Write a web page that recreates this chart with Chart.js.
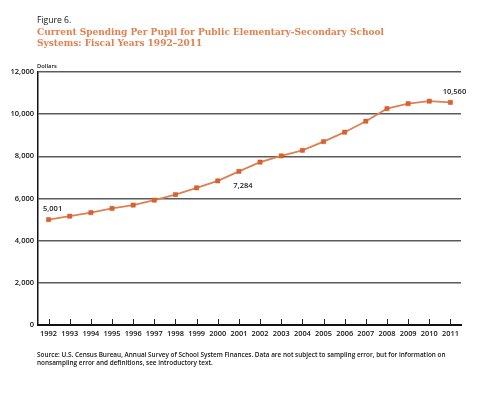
<!DOCTYPE html>
<html>
<head>
<meta charset="utf-8">
<script src="https://cdn.jsdelivr.net/npm/chart.js@4"></script>
<style>
  body { margin: 0; background: #fff; }
  #wrap { position: relative; width: 500px; height: 395px; }
  canvas { position: absolute; left: 0; top: 0; }
  .txt { position: absolute; font-family: "Open Sans", sans-serif; color: #111; white-space: nowrap; }
  #fig { left: 37px; top: 14px; font-size: 8.6px; }
  #title { left: 37px; top: 27px; font-family: "DejaVu Serif", serif; font-weight: bold; font-size: 9px; line-height: 11px; color: #e0814f; }
  #unit { left: 37px; top: 62px; font-size: 5.8px; font-weight: 600; }
  #source { left: 37px; top: 351px; font-size: 6.4px; line-height: 8px; font-weight: 600; }
</style>
</head>
<body>
<div id="wrap">
  <canvas id="c" width="500" height="395"></canvas>
  <div class="txt" id="fig">Figure 6.</div>
  <div class="txt" id="title">Current Spending Per Pupil for Public Elementary-Secondary School<br>Systems: Fiscal Years 1992–2011</div>
  <div class="txt" id="unit">Dollars</div>
  <div class="txt" id="source">Source: U.S. Census Bureau, Annual Survey of School System Finances. Data are not subject to sampling error, but for information on<br>nonsampling error and definitions, see introductory text.</div>
</div>
<script>
// values in dollars per pupil
var years = ["1992", "1993", "1994", "1995", "1996", "1997", "1998", "1999", "2000", "2001",
             "2002", "2003", "2004", "2005", "2006", "2007", "2008", "2009", "2010", "2011"];
var spending = [5001, 5160, 5327, 5528, 5689, 5923, 6189, 6508, 6835, 7284,
                7727, 8019, 8287, 8701, 9145, 9666, 10259, 10499, 10615, 10560];
var yTicks = [0, 2000, 4000, 6000, 8000, 10000, 12000];
// which points get a value label, and whether it sits above or below
var labelled = {0: "above", 9: "below", 19: "above"};

var fmt = function (v) { return v.toLocaleString("en-US"); };

// small year ticks pointing up from the x axis, plus the point value labels
var extras = {
    id: "extras",
    beforeDatasetsDraw: function (chart) {
        var ctx = chart.ctx, x = chart.scales.x, area = chart.chartArea;
        ctx.save();
        ctx.strokeStyle = "#222";
        ctx.lineWidth = 1;
        years.forEach(function (y, i) {
            var px = Math.round(x.getPixelForValue(i)) + 0.5;
            ctx.beginPath();
            ctx.moveTo(px, area.bottom);
            ctx.lineTo(px, area.bottom - 6);
            ctx.stroke();
        });
        ctx.restore();
    },
    afterDatasetsDraw: function (chart) {
        var ctx = chart.ctx, meta = chart.getDatasetMeta(0);
        ctx.save();
        ctx.font = "600 7.5px 'Open Sans', sans-serif";
        ctx.fillStyle = "#222";
        ctx.textAlign = "center";
        Object.keys(labelled).forEach(function (k) {
            var pt = meta.data[k];
            var dy = labelled[k] === "above" ? -11 : 14;
            ctx.textBaseline = "middle";
            ctx.fillText(fmt(spending[k]), pt.x + 4, pt.y + dy);
        });
        ctx.restore();
    }
};

new Chart(document.getElementById("c"), {
    type: "line",
    data: {
        labels: years,
        datasets: [{
            data: spending,
            borderColor: "#e0804f",
            borderWidth: 1.8,
            pointStyle: "rect",
            pointRadius: 3,
            pointBackgroundColor: "#d9622f",
            pointBorderColor: "#c8582a",
            pointBorderWidth: 0.5,
            tension: 0
        }]
    },
    options: {
        responsive: false,
        animation: false,
        events: [],
        layout: { padding: { left: 0, right: 39, top: 72, bottom: 50 } },
        plugins: { legend: { display: false }, tooltip: { enabled: false } },
        scales: {
            x: {
                offset: true,
                grid: { display: false, drawTicks: false },
                border: { display: true, color: "#111", width: 2 },
                ticks: {
                    color: "#111", padding: 4, maxRotation: 0, autoSkip: false,
                    font: { family: "'Open Sans', sans-serif", size: 7.4, weight: "600" }
                },
                afterFit: function (s) { s.height = 20; }
            },
            y: {
                min: 0, max: 12000,
                afterBuildTicks: function (s) { s.ticks = yTicks.map(function (v) { return { value: v }; }); },
                grid: { color: "#5a5a5a", lineWidth: 1.6, drawTicks: false },
                border: { display: true, color: "#111", width: 1.5 },
                ticks: {
                    color: "#111", padding: 4,
                    font: { family: "'Open Sans', sans-serif", size: 7.5, weight: "600" },
                    callback: function (v) { return fmt(v); }
                },
                afterFit: function (s) { s.width = 38; }
            }
        }
    },
    plugins: [extras]
});
</script>
</body>
</html>
